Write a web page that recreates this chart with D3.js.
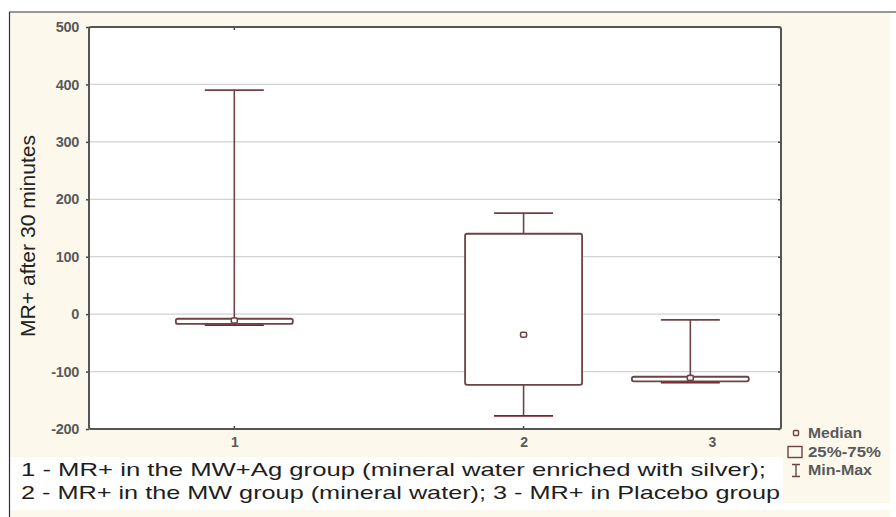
<!DOCTYPE html>
<html>
<head>
<meta charset="utf-8">
<script src="https://cdn.jsdelivr.net/npm/d3@7"></script>
<style>
    body { margin: 0; background: #fff; }
    svg { display: block; }
</style>
</head>
<body>
<svg width="896" height="517"></svg>
<script>
// groups and box statistics
var groups = [1, 2, 3];
var mins = [-19, -177, -119];
var q1s = [-17, -123, -117];
var medians = [-11, -36, -111];
var q3s = [-8, 140, -109];
var maxs = [390, 176, -10];

var yTicks = [-200, -100, 0, 100, 200, 300, 400, 500];
var yTitle = "MR+ after 30 minutes";
var legendLabels = ["Median", "25%-75%", "Min-Max"];
var notes = [
    "1 - MR+ in the MW+Ag group (mineral water enriched with silver);",
    "2 - MR+ in the MW group (mineral water); 3 - MR+ in Placebo group"
];

var svg = d3.select("svg");
var plot = { left: 89, top: 27, right: 781, bottom: 429 };
var boxColor = "#6e4347";
var minColor = "#7a2228";
var font = "Liberation Sans, Arial, sans-serif";

// background panels (cream, like the exported picture)
svg.append("rect").attr("x", 10).attr("y", 13).attr("width", 880).attr("height", 444)
    .attr("fill", "#fcf9ec");
svg.append("rect").attr("x", 783).attr("y", 457).attr("width", 107).attr("height", 46)
    .attr("fill", "#fcf9ec");
svg.append("rect").attr("x", 10).attr("y", 510).attr("width", 880).attr("height", 7)
    .attr("fill", "#fcf9ec");

// outer frame lines
svg.append("line").attr("x1", 9).attr("x2", 896).attr("y1", 12).attr("y2", 12)
    .attr("stroke", "#333").attr("stroke-width", 1.2);
svg.append("line").attr("x1", 9.5).attr("x2", 9.5).attr("y1", 12).attr("y2", 517)
    .attr("stroke", "#333").attr("stroke-width", 1.2);

var y = d3.scaleLinear().domain([-200, 500]).range([plot.bottom, plot.top]);
var w = plot.right - plot.left;
// the picture is stretched unevenly, so the groups are not equally spaced
var x = d3.scaleLinear().domain([1, 2, 3])
    .range([plot.left + w * 0.210, plot.left + w * 0.628, plot.left + w * 0.869]);
var xLab = d3.scaleLinear().domain([1, 2, 3])
    .range([plot.left + w * 0.210, plot.left + w * 0.628, plot.left + w * 0.900]);

// plot area
svg.append("rect").attr("x", plot.left).attr("y", plot.top)
    .attr("width", w).attr("height", plot.bottom - plot.top)
    .attr("fill", "#fff");

// grid lines
svg.append("g").selectAll("line").data(yTicks.filter(function (d) { return d > -200 && d < 500; }))
    .enter().append("line")
    .attr("x1", plot.left).attr("x2", plot.right)
    .attr("y1", function (d) { return y(d); }).attr("y2", function (d) { return y(d); })
    .attr("stroke", "#d2d2d6").attr("stroke-width", 1.2);

// y axis labels + ticks (plain hyphen for negatives, as in the original)
var yAxis = d3.axisLeft(y).tickValues(yTicks).tickSize(3).tickPadding(7)
    .tickFormat(function (d) { return String(d); });
var gy = svg.append("g").attr("transform", "translate(" + plot.left + ",0)").call(yAxis);
gy.select(".domain").remove();
gy.selectAll("line").attr("stroke", "#444").attr("stroke-width", 1.5);
gy.selectAll("text").attr("font-family", font)
    .attr("font-size", 14.5).attr("font-weight", "bold").attr("fill", "#5a5a5a")
    .attr("letter-spacing", -0.3);

var gyr = svg.append("g").attr("transform", "translate(" + plot.right + ",0)")
    .call(d3.axisRight(y).tickValues(yTicks).tickSize(2).tickFormat(""));
gyr.select(".domain").remove();
gyr.selectAll("line").attr("stroke", "#444").attr("stroke-width", 1.5)
    .attr("transform", "translate(-3,0)");

// x axis labels
var gx = svg.append("g").attr("transform", "translate(0," + plot.bottom + ")")
    .call(d3.axisBottom(xLab).tickValues(groups).tickSize(0).tickPadding(8)
        .tickFormat(function (d) { return String(d); }));
gx.select(".domain").remove();
gx.selectAll("text").attr("font-family", font)
    .attr("font-size", 14).attr("font-weight", "bold").attr("fill", "#5a5a5a");

// small tick marks on the frame
svg.append("g").selectAll("line").data([1, 2]).enter().append("line")
    .attr("x1", function (d) { return x(d); }).attr("x2", function (d) { return x(d); })
    .attr("y1", plot.bottom - 3).attr("y2", plot.bottom)
    .attr("stroke", "#444").attr("stroke-width", 1.5);
svg.append("line").attr("x1", x(1)).attr("x2", x(1)).attr("y1", plot.top).attr("y2", plot.top + 3)
    .attr("stroke", "#444").attr("stroke-width", 1.5);

// frame
svg.append("rect").attr("x", plot.left).attr("y", plot.top)
    .attr("width", w).attr("height", plot.bottom - plot.top)
    .attr("rx", 2).attr("fill", "none").attr("stroke", "#555").attr("stroke-width", 2);

// boxes
var boxW = 117, capW = 59;
var boxes = svg.append("g").selectAll("g").data(groups).enter().append("g");

boxes.append("line")
    .attr("x1", function (d) { return x(d); }).attr("x2", function (d) { return x(d); })
    .attr("y1", function (d, i) { return y(maxs[i]); })
    .attr("y2", function (d, i) { return y(q3s[i]); })
    .attr("stroke", boxColor).attr("stroke-width", 1.6);
boxes.append("line")
    .attr("x1", function (d) { return x(d); }).attr("x2", function (d) { return x(d); })
    .attr("y1", function (d, i) { return y(q1s[i]); })
    .attr("y2", function (d, i) { return y(mins[i]); })
    .attr("stroke", boxColor).attr("stroke-width", 1.6);
boxes.append("line")
    .attr("x1", function (d) { return x(d) - capW / 2; }).attr("x2", function (d) { return x(d) + capW / 2; })
    .attr("y1", function (d, i) { return y(maxs[i]); })
    .attr("y2", function (d, i) { return y(maxs[i]); })
    .attr("stroke", boxColor).attr("stroke-width", 1.8);
boxes.append("line")
    .attr("x1", function (d) { return x(d) - capW / 2; }).attr("x2", function (d) { return x(d) + capW / 2; })
    .attr("y1", function (d, i) { return y(mins[i]); })
    .attr("y2", function (d, i) { return y(mins[i]); })
    .attr("stroke", minColor).attr("stroke-width", 1.8);
boxes.append("rect")
    .attr("x", function (d) { return x(d) - boxW / 2; })
    .attr("y", function (d, i) { return y(q3s[i]); })
    .attr("width", boxW)
    .attr("height", function (d, i) { return y(q1s[i]) - y(q3s[i]); })
    .attr("rx", 2)
    .attr("fill", "#fff").attr("stroke", boxColor).attr("stroke-width", 1.8);
boxes.append("rect")
    .attr("x", function (d) { return x(d) - 3; })
    .attr("y", function (d, i) { return y(medians[i]) - 2.5; })
    .attr("width", 6).attr("height", 5).attr("rx", 1.5)
    .attr("fill", "#fff").attr("stroke", boxColor).attr("stroke-width", 1.6);

// y title
svg.append("text")
    .attr("transform", "translate(35,236) rotate(-90)")
    .attr("text-anchor", "middle")
    .attr("font-family", font)
    .attr("font-size", 19.5).attr("fill", "#222")
    .attr("textLength", 202).attr("lengthAdjust", "spacingAndGlyphs")
    .text(yTitle);

// legend
var leg = svg.append("g").attr("transform", "translate(796,433)");
leg.append("rect").attr("x", -2.5).attr("y", -2.5).attr("width", 5).attr("height", 5).attr("rx", 1)
    .attr("fill", "none").attr("stroke", boxColor).attr("stroke-width", 1.4);
leg.append("rect").attr("x", -8).attr("y", 13.5).attr("width", 14).attr("height", 11)
    .attr("fill", "none").attr("stroke", boxColor).attr("stroke-width", 1.4);
leg.append("path").attr("d", "M-4,31.5H4M0,31.5V43.5M-4,43.5H4")
    .attr("fill", "none").attr("stroke", boxColor).attr("stroke-width", 1.4);
var legLen = [54, 73, 64];
leg.selectAll("text").data(legendLabels).enter().append("text")
    .attr("x", 12)
    .attr("y", function (d, i) { return i * 18.5 + 5; })
    .attr("textLength", function (d, i) { return legLen[i]; })
    .attr("lengthAdjust", "spacingAndGlyphs")
    .attr("font-family", font)
    .attr("font-size", 14).attr("font-weight", "bold").attr("fill", "#5a5a5a")
    .text(function (d) { return d; });

// notes under the chart
var noteLen = [745, 759];
svg.append("g").selectAll("text").data(notes).enter().append("text")
    .attr("x", 21)
    .attr("y", function (d, i) { return 476 + i * 23; })
    .attr("textLength", function (d, i) { return noteLen[i]; })
    .attr("lengthAdjust", "spacingAndGlyphs")
    .attr("font-family", font)
    .attr("font-size", 19).attr("fill", "#1e1e1e")
    .text(function (d) { return d; });
</script>
</body>
</html>
